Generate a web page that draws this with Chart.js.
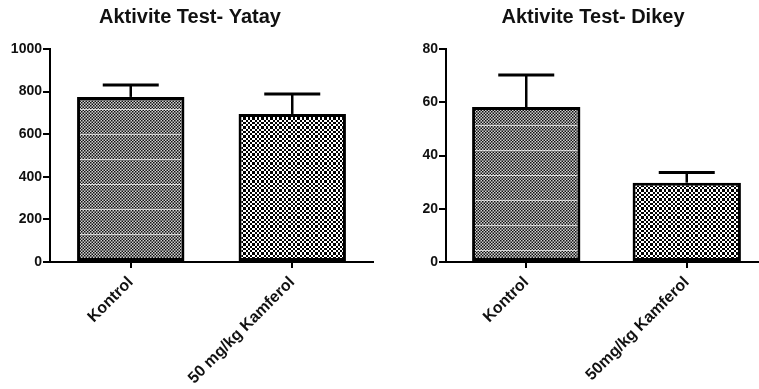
<!DOCTYPE html>
<html>
<head>
<meta charset="utf-8">
<script src="https://cdn.jsdelivr.net/npm/chart.js@4"></script>
<style>
  html, body { margin: 0; padding: 0; background: #fff; }
  #wrap { position: relative; width: 759px; height: 389px; overflow: hidden; }
  #left { position: absolute; left: 0; top: 0; }
  #right { position: absolute; left: 380px; top: 0; }
</style>
</head>
<body>
<div id="wrap">
  <canvas id="left" width="380" height="389"></canvas>
  <canvas id="right" width="394" height="389"></canvas>
</div>
<script>
// Horizontal activity test (Yatay)
const titleYatay = 'Aktivite Test- Yatay';
const categoriesYatay = ['Kontrol', '50 mg/kg Kamferol'];
const meanYatay = [775, 695];
const semYatay = [56, 94];
const ticksYatay = [0, 200, 400, 600, 800, 1000];

// Vertical activity test (Dikey)
const titleDikey = 'Aktivite Test- Dikey';
const categoriesDikey = ['Kontrol', '50mg/kg Kamferol'];
const meanDikey = [58.2, 29.8];
const semDikey = [12, 3.8];
const ticksDikey = [0, 20, 40, 60, 80];

const FONT = '"Liberation Sans", Arial, sans-serif';

// Fine checkerboard with faint light bands every 25px
function finePattern(bandOffset) {
  const c = document.createElement('canvas');
  c.width = 3; c.height = 75;
  const g = c.getContext('2d');
  g.fillStyle = '#d0d0d0';
  g.fillRect(0, 0, 3, 75);
  g.fillStyle = '#111111';
  for (let y = 0; y < 75; y += 3) {
    g.fillRect(0, y, 1.5, 1.5);
    g.fillRect(1.5, y + 1.5, 1.5, 1.5);
  }
  g.fillStyle = 'rgba(255,255,255,0.7)';
  for (let y = bandOffset; y < 75; y += 25) g.fillRect(0, y, 3, 1);
  return g.createPattern(c, 'repeat');
}

// Coarser black/white checkerboard on a 9px tile (cells of 3,2,2,2 px)
function coarsePattern() {
  const edges = [0, 3, 5, 7, 9];
  const c = document.createElement('canvas');
  c.width = 9; c.height = 9;
  const g = c.getContext('2d');
  g.fillStyle = '#ffffff';
  g.fillRect(0, 0, 9, 9);
  g.fillStyle = '#000000';
  for (let i = 0; i < 4; i++) {
    for (let j = 0; j < 4; j++) {
      if ((i + j) % 2 === 0) {
        g.fillRect(edges[i], edges[j], edges[i + 1] - edges[i], edges[j + 1] - edges[j]);
      }
    }
  }
  return g.createPattern(c, 'repeat');
}

// Upper-only error bars with a cap, from each dataset's "sem" array
const errorBars = {
  id: 'errorBars',
  afterDatasetsDraw(chart, args, opts) {
    const { ctx } = chart;
    const y = chart.scales.y;
    const ds = chart.data.datasets[0];
    const meta = chart.getDatasetMeta(0);
    ctx.save();
    ctx.strokeStyle = '#000';
    ctx.lineCap = 'butt';
    meta.data.forEach((bar, i) => {
      const base = y.getPixelForValue(ds.data[i]);
      const top = y.getPixelForValue(ds.data[i] + ds.sem[i]);
      ctx.lineWidth = 2.5;
      ctx.beginPath();
      ctx.moveTo(bar.x, base);
      ctx.lineTo(bar.x, top);
      ctx.stroke();
      ctx.lineWidth = 3;
      ctx.beginPath();
      ctx.moveTo(bar.x - opts.cap / 2, top);
      ctx.lineTo(bar.x + opts.cap / 2, top);
      ctx.stroke();
    });
    ctx.restore();
  }
};

function makeChart(canvas, cfg) {
  return new Chart(canvas, {
    type: 'bar',
    data: {
      labels: cfg.labels,
      datasets: [{
        data: cfg.values,
        sem: cfg.sem,
        backgroundColor: cfg.fills,
        borderColor: '#000',
        borderWidth: 3,
        borderSkipped: false,
        categoryPercentage: 1,
        barPercentage: cfg.barPct
      }]
    },
    options: {
      responsive: false,
      animation: false,
      layout: { padding: { left: cfg.padL, right: cfg.padR, top: 0, bottom: 0 } },
      plugins: {
        legend: { display: false },
        tooltip: { enabled: false },
        title: {
          display: true,
          text: cfg.title,
          color: '#111',
          font: { family: FONT, size: 20, weight: 'bold' },
          padding: { top: 5, bottom: 20 }
        },
        errorBars: { cap: 56 }
      },
      scales: {
        x: {
          grid: { drawOnChartArea: false, offset: false, tickLength: 6, color: '#000', lineWidth: 2 },
          border: { color: '#000', width: 2 },
          ticks: {
            color: '#111',
            font: { family: FONT, size: 16, weight: 'bold' },
            minRotation: 45, maxRotation: 45, padding: 5, autoSkip: false
          },
          afterFit: (s) => { s.height = 127; }
        },
        y: {
          min: cfg.ticks[0],
          max: cfg.ticks[cfg.ticks.length - 1],
          afterBuildTicks: (s) => { s.ticks = cfg.ticks.map(v => ({ value: v })); },
          grid: { drawOnChartArea: false, tickLength: 7, color: '#000', lineWidth: 2 },
          border: { color: '#000', width: 2 },
          ticks: {
            color: '#111',
            font: { family: FONT, size: 14, weight: 'bold' },
            padding: 1,
            callback: (v) => String(v)
          },
          afterFit: (s) => { s.width = cfg.yWidth; }
        }
      }
    },
    plugins: [errorBars]
  });
}

const leftCanvas = document.getElementById('left');
const rightCanvas = document.getElementById('right');

makeChart(leftCanvas, {
  title: titleYatay,
  labels: categoriesYatay,
  values: meanYatay,
  sem: semYatay,
  ticks: ticksYatay,
  fills: [finePattern(9), coarsePattern()],
  barPct: 0.665,
  padL: 7, padR: 7, yWidth: 43
});

makeChart(rightCanvas, {
  title: titleDikey,
  labels: categoriesDikey,
  values: meanDikey,
  sem: semDikey,
  ticks: ticksDikey,
  fills: [finePattern(0), coarsePattern()],
  barPct: 0.675,
  padL: 39, padR: 7, yWidth: 27
});
</script>
</body>
</html>
